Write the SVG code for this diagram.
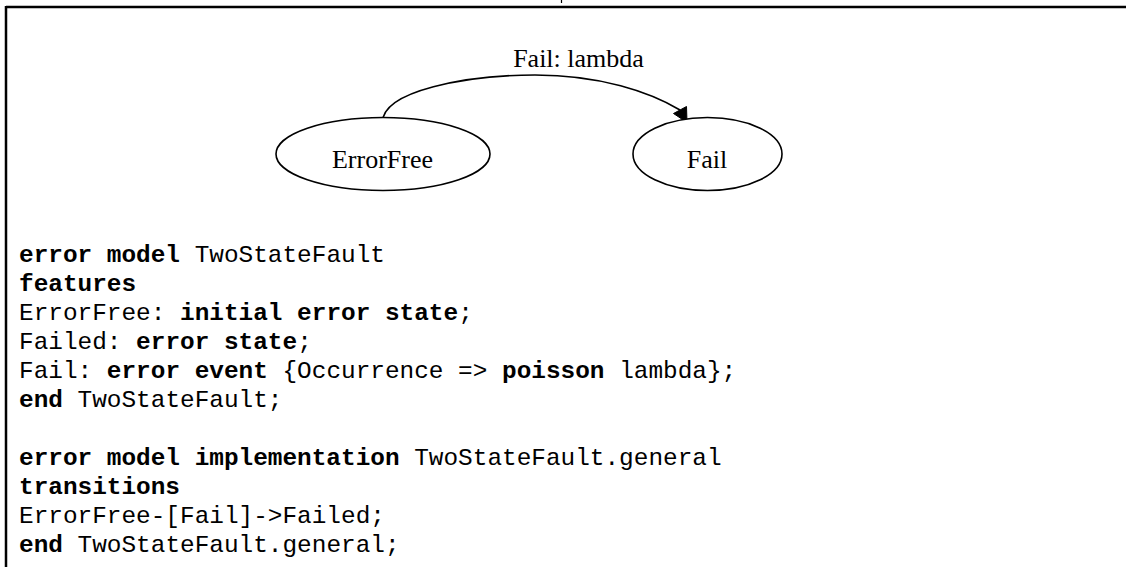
<svg xmlns="http://www.w3.org/2000/svg" width="1126" height="567" viewBox="0 0 1126 567">
  <style>
    .frame { stroke: #000; stroke-width: 2.5; fill: none; }
    .state { fill: #fff; stroke: #000; stroke-width: 1.6; }
    .label { font-family: "Liberation Serif", "Times New Roman", serif; font-size: 26px; fill: #000; text-anchor: middle; }
    .edge { fill: none; stroke: #000; stroke-width: 1.6; }
    .code { font-family: "Liberation Mono", "Courier New", monospace; font-size: 24.4px; fill: #000; white-space: pre; }
    .kw { font-weight: bold; }
  </style>
  <rect width="1126" height="567" fill="#fff"/>

  <!-- page frame -->
  <g id="frame">
    <line class="frame" x1="6" y1="7" x2="1126" y2="7"/>
    <line class="frame" x1="6" y1="6" x2="6" y2="567"/>
    <line x1="561.5" y1="0" x2="561.5" y2="3" stroke="#000" stroke-width="1.2"/>
  </g>

  <!-- transition -->
  <g id="connectors">
    <path class="edge" d="M382.5,124 C380,90 470,75 535,75 C600,75 650,92 680,110"/>
    <polygon points="673.5,113.5 686.5,106.5 687,122.5" fill="#000" stroke="#000" stroke-width="1"/>
    <text class="label" x="578.5" y="67">Fail: lambda</text>
  </g>

  <g id="node-errorfree">
    <ellipse class="state" cx="383" cy="154" rx="107" ry="36.5"/>
    <text class="label" x="382.5" y="168">ErrorFree</text>
  </g>

  <g id="node-fail">
    <ellipse class="state" cx="707.5" cy="154" rx="74.5" ry="36.5"/>
    <text class="label" x="707" y="168">Fail</text>
  </g>

  <!-- error model listing -->
  <g id="listing">
    <text class="code" x="19" y="262"><tspan class="kw">error model</tspan> TwoStateFault</text>
    <text class="code" x="19" y="291"><tspan class="kw">features</tspan></text>
    <text class="code" x="19" y="320">ErrorFree: <tspan class="kw">initial error state</tspan>;</text>
    <text class="code" x="19" y="349">Failed: <tspan class="kw">error state</tspan>;</text>
    <text class="code" x="19" y="378">Fail: <tspan class="kw">error event</tspan> {Occurrence =&gt; <tspan class="kw">poisson</tspan> lambda};</text>
    <text class="code" x="19" y="407"><tspan class="kw">end</tspan> TwoStateFault;</text>
    <text class="code" x="19" y="465"><tspan class="kw">error model implementation</tspan> TwoStateFault.general</text>
    <text class="code" x="19" y="494"><tspan class="kw">transitions</tspan></text>
    <text class="code" x="19" y="523">ErrorFree-[Fail]-&gt;Failed;</text>
    <text class="code" x="19" y="552"><tspan class="kw">end</tspan> TwoStateFault.general;</text>
  </g>
</svg>
